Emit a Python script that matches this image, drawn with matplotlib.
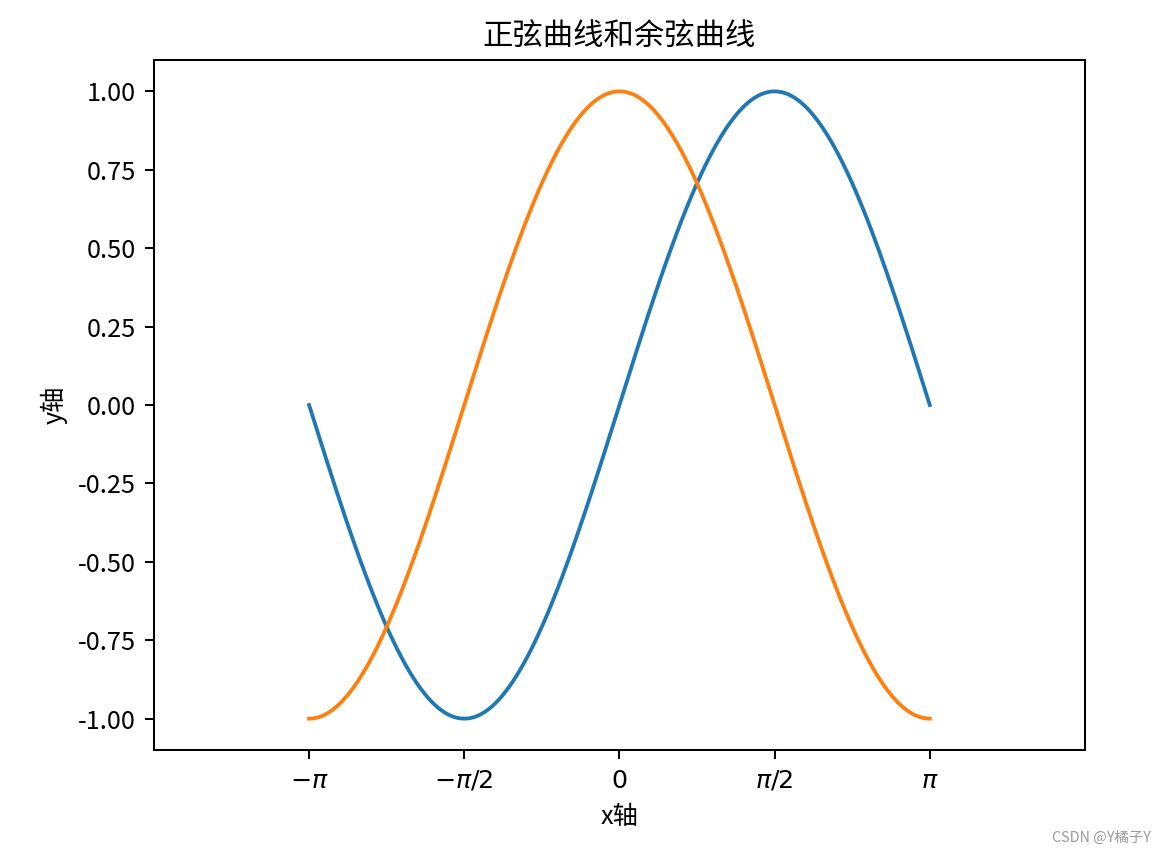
import numpy as np
import matplotlib
matplotlib.use('Agg')
import matplotlib.pyplot as plt

plt.rcParams['font.family'] = ['Noto Sans CJK SC', 'DejaVu Sans']
plt.rcParams['axes.unicode_minus'] = False

# 数据: 正弦和余弦曲线
x = np.linspace(-np.pi, np.pi, 256)
y_sin = np.sin(x)
y_cos = np.cos(x)

xtick_pos = [-np.pi, -np.pi / 2, 0, np.pi / 2, np.pi]
xtick_labels = [r'$-\pi$', r'$-\pi/2$', r'$0$', r'$\pi/2$', r'$\pi$']

fig = plt.figure(figsize=(1166 / 182, 855 / 182), dpi=182)
fig.subplots_adjust(left=0.132, right=0.9305, top=0.9298, bottom=0.1228)

plt.plot(x, y_sin)
plt.plot(x, y_cos)
plt.xlim(x.min() * 1.5, x.max() * 1.5)
plt.xticks(xtick_pos, xtick_labels)
plt.title('正弦曲线和余弦曲线')
plt.xlabel('x轴')
plt.ylabel('y轴')

# 水印
fig.text(0.987, 0.012, 'CSDN @Y橘子Y', ha='right', va='bottom',
         fontsize=5.7, color='#999999')

plt.savefig('out.png', dpi=182)
